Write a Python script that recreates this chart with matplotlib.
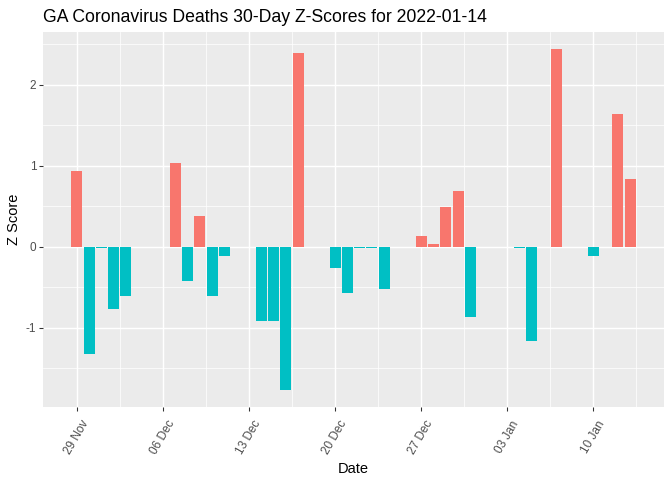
import matplotlib
matplotlib.use("Agg")
import matplotlib.pyplot as plt
import matplotlib.dates as mdates
import numpy as np
import pandas as pd

plt.rcParams['font.family'] = ['Liberation Sans', 'DejaVu Sans']

dates = ["2021-11-29", "2021-11-30", "2021-12-01", "2021-12-02", "2021-12-03",
         "2021-12-04", "2021-12-05", "2021-12-06", "2021-12-07", "2021-12-08",
         "2021-12-09", "2021-12-10", "2021-12-11", "2021-12-12", "2021-12-13",
         "2021-12-14", "2021-12-15", "2021-12-16", "2021-12-17", "2021-12-18",
         "2021-12-19", "2021-12-20", "2021-12-21", "2021-12-22", "2021-12-23",
         "2021-12-24", "2021-12-25", "2021-12-26", "2021-12-27", "2021-12-28",
         "2021-12-29", "2021-12-30", "2021-12-31", "2022-01-01", "2022-01-02",
         "2022-01-03", "2022-01-04", "2022-01-05", "2022-01-06", "2022-01-07",
         "2022-01-08", "2022-01-09", "2022-01-10", "2022-01-11", "2022-01-12",
         "2022-01-13"]
z_scores = [0.94, -1.32, -0.012, -0.765, -0.613,
            0.0, 0.0, 0.0, 1.037, -0.42,
            0.383, -0.613, -0.11, 0.0, 0.0,
            -0.914, -0.914, -1.765, 2.395, 0.0,
            0.0, -0.259, -0.568, -0.012, -0.012,
            -0.519, 0.0, 0.0, 0.136, 0.037,
            0.494, 0.691, -0.864, 0.0, 0.0,
            0.0, -0.012, -1.16, 0.0, 2.444,
            0.0, 0.0, -0.111, 0.0, 1.642,
            0.84]
tick_dates = ["2021-11-29", "2021-12-06", "2021-12-13", "2021-12-20",
              "2021-12-27", "2022-01-03", "2022-01-10"]
y_ticks = [-1, 0, 1, 2]

POS = "#F8766D"
NEG = "#00BFC4"

x = pd.to_datetime(dates)
xn = mdates.date2num(x)
vals = np.array(z_scores)
colors = [POS if v > 0 else NEG for v in vals]

fig = plt.figure(figsize=(7, 5), dpi=96)
ax = fig.add_axes([43/672, 1-406.7/480, (664-43)/672, (406.7-32)/480])
ax.set_facecolor("#EBEBEB")

# grid
width = 0.9
xmin_d = xn.min() - width/2
xmax_d = xn.max() + width/2
xr = xmax_d - xmin_d
xlo, xhi = xmin_d - 0.05*xr, xmax_d + 0.05*xr
ymin_d = min(vals.min(), 0)
ymax_d = max(vals.max(), 0)
yr = ymax_d - ymin_d
ylo, yhi = ymin_d - 0.05*yr, ymax_d + 0.05*yr

tn = mdates.date2num(pd.to_datetime(tick_dates))
minor_x = []
step = tn[1] - tn[0]
allmaj = np.concatenate([[tn[0]-step], tn, [tn[-1]+step]])
for a, b in zip(allmaj[:-1], allmaj[1:]):
    minor_x.append((a+b)/2)
for mx in minor_x:
    if xlo < mx < xhi:
        ax.axvline(mx, color="white", lw=0.55, zorder=0.5)
for yv in [-1.5, -0.5, 0.5, 1.5, 2.5]:
    if ylo < yv < yhi:
        ax.axhline(yv, color="white", lw=0.55, zorder=0.5)
for t in tn:
    ax.axvline(t, color="white", lw=1.1, zorder=0.6)
for yv in y_ticks:
    ax.axhline(yv, color="white", lw=1.1, zorder=0.6)

ax.bar(xn, vals, width=width, color=colors, zorder=2, linewidth=0)

ax.set_xlim(xlo, xhi)
ax.set_ylim(ylo, yhi)
ax.set_xticks(tn)
ax.set_xticklabels([pd.Timestamp(t).strftime("%d %b") for t in tick_dates],
                   rotation=60, ha="center", va="top")
ax.set_yticks(y_ticks)
ax.set_yticklabels([str(v) for v in y_ticks])
for s in ax.spines.values():
    s.set_visible(False)
ax.tick_params(axis="both", colors="#333333", length=2.75, width=0.8,
               labelsize=8.8, labelcolor="#4D4D4D")
ax.tick_params(axis="x", pad=6)
ax.tick_params(axis="y", pad=2.2)

ax.set_xlabel("Date", fontsize=11, color="black", labelpad=4)
ax.set_ylabel("Z Score", fontsize=11, color="black", labelpad=4)
ax.set_title("GA Coronavirus Deaths 30-Day Z-Scores for 2022-01-14",
             loc="left", fontsize=13.2, color="black", pad=7.5)

fig.savefig("out.png", dpi=96)
